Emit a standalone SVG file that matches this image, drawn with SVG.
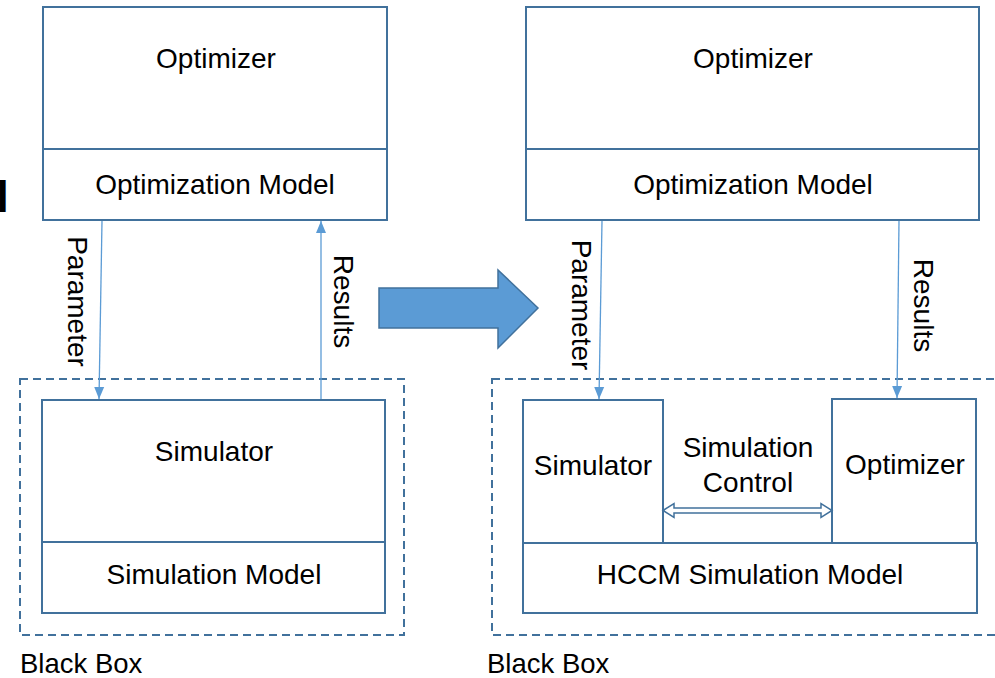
<svg xmlns="http://www.w3.org/2000/svg" width="995" height="678" viewBox="0 0 995 678">
<defs>
<style>
.box{fill:#fff;stroke:#41719C;stroke-width:2}
.dash{fill:none;stroke:#41719C;stroke-width:2;stroke-dasharray:8,5}
.t{font-family:"Liberation Sans",Arial,sans-serif;font-size:28px;fill:#000}
.c{text-anchor:middle}
.conn{stroke:#5B9BD5;stroke-width:1.3;fill:none}
</style>
<marker id="ah" viewBox="0 0 12 12" refX="12" refY="6" markerWidth="12" markerHeight="12" markerUnits="userSpaceOnUse" orient="auto">
<path d="M0,1 L12,6 L0,11 Z" fill="#5B9BD5"/>
</marker>
</defs>
<rect width="995" height="678" fill="#fff"/>
<text class="t" x="-3.5" y="212" style="font-size:44px;font-weight:bold">l</text>

<g id="left-opt">
<rect class="box" x="43" y="7" width="344" height="213"/>
<line x1="43" y1="149" x2="387" y2="149" stroke="#41719C" stroke-width="2"/>
<text class="t c" x="216" y="68">Optimizer</text>
<text class="t c" x="215" y="194">Optimization Model</text>
</g>
<g id="left-blackbox">
<rect class="dash" x="20" y="379" width="384" height="256"/>
<text class="t" x="20" y="673" style="font-size:27.5px">Black Box</text>
</g>
<g id="left-sim">
<rect class="box" x="42" y="400" width="343" height="213"/>
<line x1="42" y1="542" x2="385" y2="542" stroke="#41719C" stroke-width="2"/>
<text class="t c" x="214" y="461">Simulator</text>
<text class="t c" x="214" y="584">Simulation Model</text>
</g>

<g id="big-arrow">
<polygon points="379,288 498,288 498,270 538,308 498,348 498,328 379,328" fill="#5B9BD5" stroke="#41719C" stroke-width="1.5"/>
</g>

<g id="right-opt">
<rect class="box" x="526" y="7" width="453" height="213"/>
<line x1="526" y1="149" x2="979" y2="149" stroke="#41719C" stroke-width="2"/>
<text class="t c" x="753" y="68">Optimizer</text>
<text class="t c" x="753" y="194">Optimization Model</text>
</g>
<g id="right-blackbox">
<rect class="dash" x="492" y="379" width="520" height="256"/>
<text class="t" x="487" y="673" style="font-size:27.5px">Black Box</text>
</g>
<g id="hccm">
<rect class="box" x="523" y="543" width="454" height="70"/>
<text class="t c" x="750" y="584">HCCM Simulation Model</text>
</g>
<g id="right-sim">
<rect class="box" x="523" y="400" width="140" height="143"/>
<text class="t c" x="593" y="475">Simulator</text>
</g>
<g id="right-optimizer">
<rect class="box" x="832" y="399" width="144" height="144"/>
<text class="t c" x="905" y="474">Optimizer</text>
</g>
<g id="sim-control">
<text class="t c" x="748" y="457">Simulation</text>
<text class="t c" x="748" y="492">Control</text>
</g>

<g id="connectors">
<line class="conn" x1="102" y1="221" x2="99" y2="399" marker-end="url(#ah)"/>
<line class="conn" x1="321" y1="399" x2="321" y2="221" marker-end="url(#ah)"/>
<line class="conn" x1="602" y1="221" x2="599" y2="399" marker-end="url(#ah)"/>
<line class="conn" x1="899" y1="221" x2="897" y2="398" marker-end="url(#ah)"/>
<polygon points="663,510.5 674,503.5 674,508 821,508 821,503.5 832,510.5 821,517.5 821,513 674,513 674,517.5" fill="#fff" stroke="#41719C" stroke-width="1.5"/>
<text class="t c" transform="translate(68,301.5) rotate(90)">Parameter</text>
<text class="t c" transform="translate(334,301.5) rotate(90)">Results</text>
<text class="t c" transform="translate(572,305) rotate(90)">Parameter</text>
<text class="t c" transform="translate(913.5,305.5) rotate(90)">Results</text>
</g>
</svg>
